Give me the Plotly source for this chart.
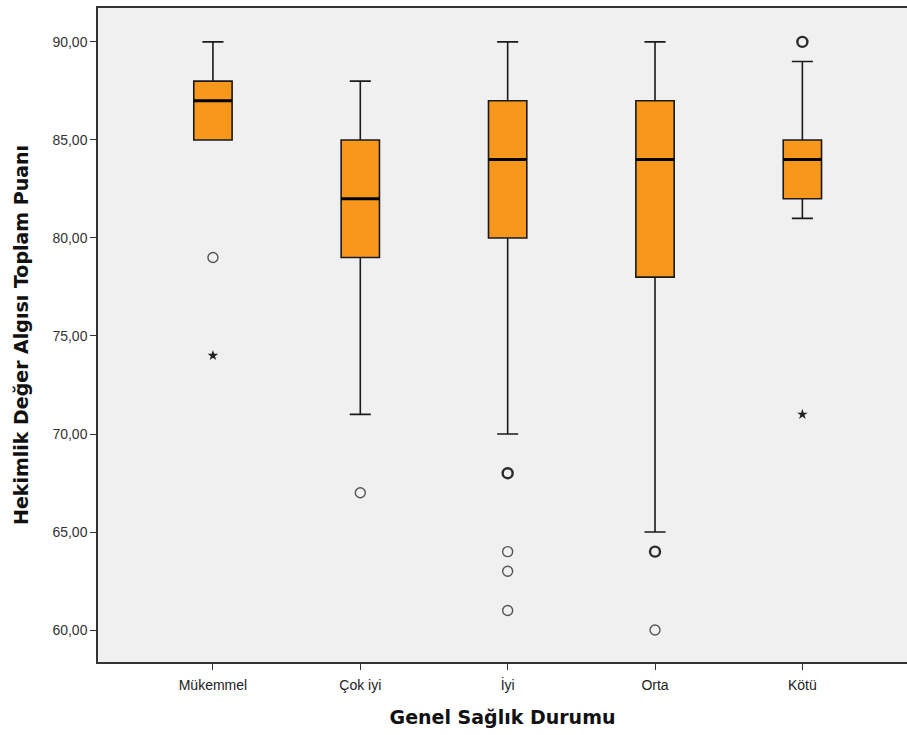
import plotly.graph_objects as go

categories = ["Mükemmel", "Çok iyi", "İyi", "Orta", "Kötü"]
q1 = [85, 79, 80, 78, 82]
median = [87, 82, 84, 84, 84]
q3 = [88, 85, 87, 87, 85]
lower_fence = [85, 71, 70, 65, 81]
upper_fence = [90, 88, 90, 90, 89]
# outliers (circles) and extremes (stars); outlier_n = overlapping cases
outlier_cat = ["Mükemmel", "Çok iyi", "İyi", "İyi", "İyi", "İyi", "Orta", "Orta", "Kötü"]
outlier_val = [79, 67, 68, 64, 63, 61, 64, 60, 90]
outlier_n = [1, 1, 2, 1, 1, 1, 2, 1, 2]
extreme_cat = ["Mükemmel", "Kötü"]
extreme_val = [74, 71]
y_ticks = [60, 65, 70, 75, 80, 85, 90]

BOX_W = 0.26
pos = {c: i for i, c in enumerate(categories)}

fig = go.Figure()
for i, c in enumerate(categories):
    fig.add_trace(go.Box(
        x=[i], q1=[q1[i]], median=[median[i]], q3=[q3[i]],
        lowerfence=[lower_fence[i]], upperfence=[upper_fence[i]],
        width=BOX_W, whiskerwidth=0.55, boxpoints=False,
        fillcolor="#F7981D", line=dict(color="#1a1a1a", width=1.6),
        showlegend=False, hoverinfo="skip",
    ))
    fig.add_trace(go.Scatter(
        x=[i - BOX_W / 2, i + BOX_W / 2], y=[median[i], median[i]],
        mode="lines", line=dict(color="#000000", width=3),
        showlegend=False, hoverinfo="skip",
    ))

fig.add_trace(go.Scatter(
    x=[pos[c] for c in outlier_cat], y=outlier_val, mode="markers",
    marker=dict(symbol="circle-open", size=10,
                color=["#555555" if n == 1 else "#2a2a2a" for n in outlier_n],
                line=dict(width=[1.4 if n == 1 else 2.4 for n in outlier_n])),
    showlegend=False,
))
fig.add_trace(go.Scatter(
    x=[pos[c] for c in extreme_cat], y=extreme_val, mode="markers",
    marker=dict(symbol="star", size=8, color="#222222"),
    showlegend=False,
))

fig.update_layout(
    width=907, height=735,
    margin=dict(l=98, r=0, t=8, b=73),
    paper_bgcolor="white", plot_bgcolor="#F0F0F0",
    separators=",.",
    font=dict(family="Liberation Sans, Arial, sans-serif", color="#222222"),
    xaxis=dict(
        range=[-0.78, 4.71], tickmode="array",
        tickvals=list(range(len(categories))), ticktext=categories,
        ticks="outside", ticklen=6, tickcolor="#333333",
        ticklabelstandoff=3,
        showline=True, linecolor="#333333", linewidth=1.5, mirror=True,
        showgrid=False, zeroline=False,
        tickfont=dict(size=14, color="#222222"),
        title=dict(text="<b>Genel Sağlık Durumu</b>",
                   font=dict(size=19, family="DejaVu Sans, sans-serif", color="#111111"), standoff=19),
    ),
    yaxis=dict(
        range=[58.37, 91.73], tickmode="array", tickvals=y_ticks,
        tickformat=".2f",
        ticks="outside", ticklen=6, tickcolor="#333333",
        showline=True, linecolor="#333333", linewidth=1.5,
        showgrid=False, zeroline=False,
        tickfont=dict(size=14, color="#333333"),
        title=dict(text="<b>Hekimlik Değer Algısı Toplam Puanı</b>",
                   font=dict(size=19, family="DejaVu Sans, sans-serif", color="#111111"), standoff=19),
    ),
)

fig.write_html(
    "out.html",
    config={"displayModeBar": False},
    post_script="document.body.style.margin='0';document.body.style.overflow='hidden';",
)
